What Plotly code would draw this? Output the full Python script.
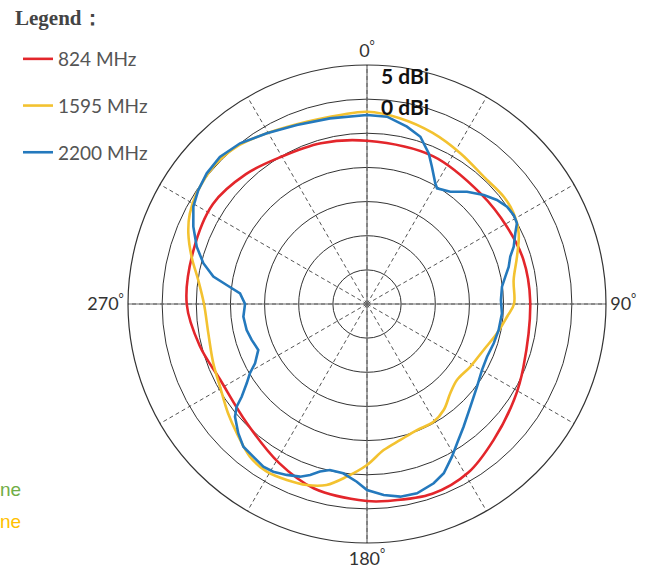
import plotly.graph_objects as go

# ---- data (angle in degrees clockwise from top, gain in dBi) ----
series_names = ["824 MHz", "1595 MHz", "2200 MHz"]
series_colors = ["#E3262B", "#F3C230", "#2479BD"]

theta_824 = [0, 24, 46, 61, 74, 89, 112, 123, 137, 149, 161, 174, 180, 196, 209,
             225, 243, 256, 270, 287, 303, 317, 329, 344, 360]
gain_824 = [-6.1, -6.3, -6.8, -6.6, -6.2, -6.1, -5.3, -4.3, -2.8, -1.2, -0.6, -1.0,
            -1.15, -1.9, -3.4, -5.2, -5.8, -4.75, -3.6, -3.4, -3.1, -4.0, -5.0, -5.5, -6.1]

theta_1595 = [0, 10, 21, 32, 42.5, 52, 58, 65, 72.5, 80.7, 90, 95.2, 102.7, 111.5, 121.3,
              130.2, 137, 144, 150.5, 158.4, 166.2, 173.5, 180, 186.7, 192.6, 198.4, 204.5,
              211, 217.5, 225, 232, 240.6, 249, 259.5, 270, 278, 285, 291.6, 297, 303, 312,
              320.4, 329.6, 341.7, 352, 360]
gain_1595 = [-1.84, -2.37, -3.16, -4.05, -4.71, -4.55, -4.74, -5.49, -6.97, -8.24, -8.47,
             -9.41, -10.48, -11.64, -12.31, -12.75, -12.12, -10.85, -10.19, -10.14, -9.50,
             -8.47, -6.42, -4.54, -2.85, -2.06, -1.67, -1.39, -1.83, -3.11, -4.14, -5.30,
             -5.88, -6.37, -6.13, -5.05, -3.41, -1.86, -0.87, -0.26, 0.18, -0.08, -1.01,
             -1.88, -2.05, -1.84]

theta_2200 = [0, 6.1, 12.7, 17.7, 22.3, 25.3, 29.5, 31.2, 36.6, 41.7, 47, 51.3, 55.2, 58.8,
              61.7, 64.5, 68.7, 71.7, 75.3, 78.8, 82.7, 88.3, 94, 101.2, 107.2, 113.7, 119.9,
              126.9, 134.8, 141.8, 147.1, 150.9, 155.6, 159.6, 165.2, 170.2, 175, 180, 183.3,
              188, 192.6, 195.7, 198.4, 201.2, 205.2, 209.2, 212.5, 216.7, 220.9, 224.9,
              229.5, 231.8, 233.5, 236.6, 239.4, 242.1, 247.1, 252.7, 257.8, 264.1, 270,
              274.8, 277.7, 280.1, 284, 288.6, 294, 299.3, 304, 309.2, 315, 321.7, 329.6,
              338.6, 348.7, 360]
gain_2200 = [-2.32, -2.41, -3.38, -4.29, -6.16, -7.76, -9.69, -10.20, -9.53, -7.98, -6.61,
             -5.62, -5.03, -4.87, -5.06, -5.94, -6.94, -7.90, -8.55, -9.35, -10.07, -10.38,
             -10.19, -10.35, -10.57, -10.80, -10.58, -9.85, -8.66, -7.13, -5.71, -4.42,
             -2.78, -1.99, -1.33, -1.37, -1.93, -2.76, -3.93, -4.96, -5.09, -4.51, -3.61,
             -2.88, -2.34, -1.87, -1.75, -2.12, -2.35, -3.29, -4.58, -5.71, -7.17, -8.90,
             -10.08, -11.45, -12.72, -12.31, -11.97, -11.80, -12.14, -11.34, -9.26, -7.14,
             -5.30, -3.69, -2.16, -0.84, -0.19, 0.28, 0.47, -0.01, -1.01, -1.84, -2.28, -2.32]

radial_range = [-30, 5]
ring_values = [-25, -20, -15, -10, -5, 0]
angle_ticks = list(range(0, 360, 30))
angle_labels = {0: "0", 90: "90", 180: "180", 270: "270"}
ring_labels = ["5 dBi", "0 dBi"]
legend_title = "Legend："
side_texts = ["ne", "ne"]
side_colors = ["#70AD47", "#FFC000"]

fig = go.Figure()

# solid cross axes
for t in (0, 90):
    fig.add_trace(go.Scatterpolar(
        theta=[t, t, t + 180], r=[radial_range[1], radial_range[0], radial_range[1]],
        mode="lines", line=dict(color="#6a6a6a", width=1.2),
        showlegend=False, hoverinfo="skip"))

data = [(theta_824, gain_824, "spline"), (theta_1595, gain_1595, "spline"),
        (theta_2200, gain_2200, "linear")]
for i, (th, g, shp) in enumerate(data):
    fig.add_trace(go.Scatterpolar(
        theta=th, r=g, mode="lines", name=series_names[i], legendgroup=series_names[i],
        line=dict(color=series_colors[i], width=2.6, shape=shp)))

ticktext = [(angle_labels[a] + "<sup>°</sup>") if a in angle_labels else "" for a in angle_ticks]

fig.update_layout(
    width=658, height=569,
    margin=dict(l=0, r=0, t=0, b=0),
    paper_bgcolor="white",
    polar=dict(
        domain=dict(x=[128 / 658, 606 / 658], y=[1 - 543 / 569, 1 - 65 / 569]),
        bgcolor="white",
        angularaxis=dict(
            direction="clockwise", rotation=90,
            tickmode="array", tickvals=angle_ticks, ticktext=ticktext, ticks="",
            showgrid=True, gridcolor="#555555", gridwidth=1, griddash="4px,3px",
            showline=True, linecolor="#333333", linewidth=1.2,
            tickfont=dict(family="Lato", size=18, color="#333333")),
        radialaxis=dict(
            range=radial_range, tickvals=ring_values, showticklabels=False, ticks="",
            showline=False, showgrid=True, gridcolor="#333333", gridwidth=1.2)),
    showlegend=True,
    legend=dict(x=18 / 658, y=1 - 40 / 569, xanchor="left", yanchor="top",
                font=dict(family="Lato", size=19, color="#555555"),
                tracegroupgap=19, bgcolor="rgba(0,0,0,0)", itemclick=False),
)

fig.add_annotation(x=379 / 658, y=1 - 75 / 569, xref="paper", yref="paper", xanchor="left",
                   yanchor="middle", text="<b>" + ring_labels[0] + "</b>", showarrow=False,
                   font=dict(family="Lato", size=21, color="#111111"))
fig.add_annotation(x=379 / 658, y=1 - 107 / 569, xref="paper", yref="paper", xanchor="left",
                   yanchor="middle", text="<b>" + ring_labels[1] + "</b>", showarrow=False,
                   font=dict(family="Lato", size=21, color="#111111"))
fig.add_annotation(x=13 / 658, y=1 - 18 / 569, xref="paper", yref="paper", xanchor="left",
                   yanchor="middle", text="<b>" + legend_title + "</b>", showarrow=False,
                   font=dict(family="Liberation Serif", size=21, color="#444444"))
for k, (txt, col) in enumerate(zip(side_texts, side_colors)):
    fig.add_annotation(x=-2 / 658, y=1 - (489 + 32 * k) / 569, xref="paper", yref="paper",
                       xanchor="left", yanchor="middle", text=txt, showarrow=False,
                       font=dict(family="Liberation Sans", size=19, color=col))

fig.write_html("out.html", config={"displayModeBar": False},
               post_script="document.body.style.margin='0';")
